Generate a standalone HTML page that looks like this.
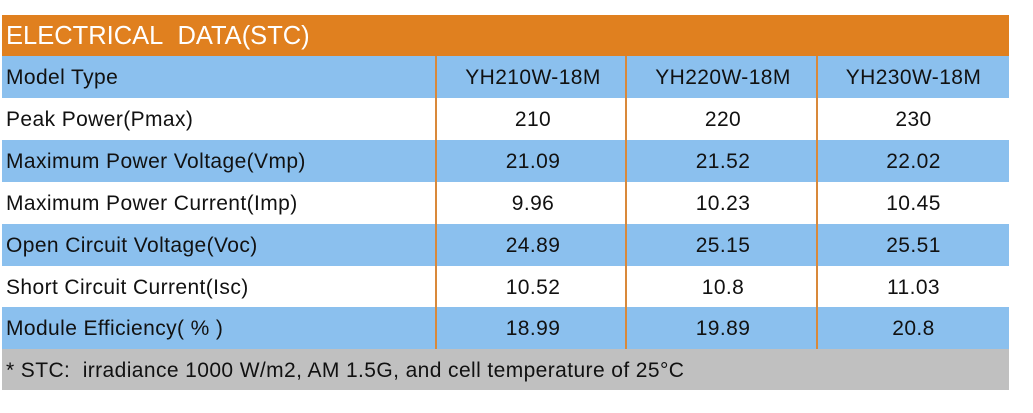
<!DOCTYPE html>
<html><head><style>
body{margin:0;width:1033px;height:413px;background:#fff;font-family:"Liberation Sans",sans-serif;position:relative;overflow:hidden}
.r{position:absolute;left:2px;width:1007px;height:42px;color:#111;font-size:21px;letter-spacing:0.4px}
.r span{position:absolute;top:1px;line-height:42px;white-space:nowrap}
.c{text-align:center}
.v{position:absolute;top:56px;height:293px;width:2px;background:#d9893a}
</style></head><body>
<div class="r" style="top:15px;height:41px;background:#e0801f;color:#fff;font-size:25.5px;letter-spacing:0"><span style="left:4px;line-height:41px">ELECTRICAL&nbsp; DATA(STC)</span></div>
<div class="r" style="top:56px;background:#8bc0ee"><span style="left:4px">Model Type</span><span class="c" style="left:436px;width:190px">YH210W-18M</span><span class="c" style="left:626px;width:190px">YH220W-18M</span><span class="c" style="left:816px;width:191px">YH230W-18M</span></div>
<div class="r" style="top:98px"><span style="left:4px">Peak Power(Pmax)</span><span class="c" style="left:436px;width:190px">210</span><span class="c" style="left:626px;width:190px">220</span><span class="c" style="left:816px;width:191px">230</span></div>
<div class="r" style="top:140px;background:#8bc0ee"><span style="left:4px">Maximum Power Voltage(Vmp)</span><span class="c" style="left:436px;width:190px">21.09</span><span class="c" style="left:626px;width:190px">21.52</span><span class="c" style="left:816px;width:191px">22.02</span></div>
<div class="r" style="top:182px"><span style="left:4px">Maximum Power Current(Imp)</span><span class="c" style="left:436px;width:190px">9.96</span><span class="c" style="left:626px;width:190px">10.23</span><span class="c" style="left:816px;width:191px">10.45</span></div>
<div class="r" style="top:224px;background:#8bc0ee"><span style="left:4px">Open Circuit Voltage(Voc)</span><span class="c" style="left:436px;width:190px">24.89</span><span class="c" style="left:626px;width:190px">25.15</span><span class="c" style="left:816px;width:191px">25.51</span></div>
<div class="r" style="top:266px"><span style="left:4px">Short Circuit Current(Isc)</span><span class="c" style="left:436px;width:190px">10.52</span><span class="c" style="left:626px;width:190px">10.8</span><span class="c" style="left:816px;width:191px">11.03</span></div>
<div class="r" style="top:307px;background:#8bc0ee"><span style="left:4px">Module Efficiency( % )</span><span class="c" style="left:436px;width:190px">18.99</span><span class="c" style="left:626px;width:190px">19.89</span><span class="c" style="left:816px;width:191px">20.8</span></div>
<div class="r" style="top:349px;height:41px;background:#c0c0c0"><span style="left:4px;line-height:41px">* STC:&nbsp; irradiance 1000 W/m2, AM 1.5G, and cell temperature of 25°C</span></div>
<div class="v" style="left:435px"></div><div class="v" style="left:625px"></div><div class="v" style="left:816px"></div>
</body></html>
